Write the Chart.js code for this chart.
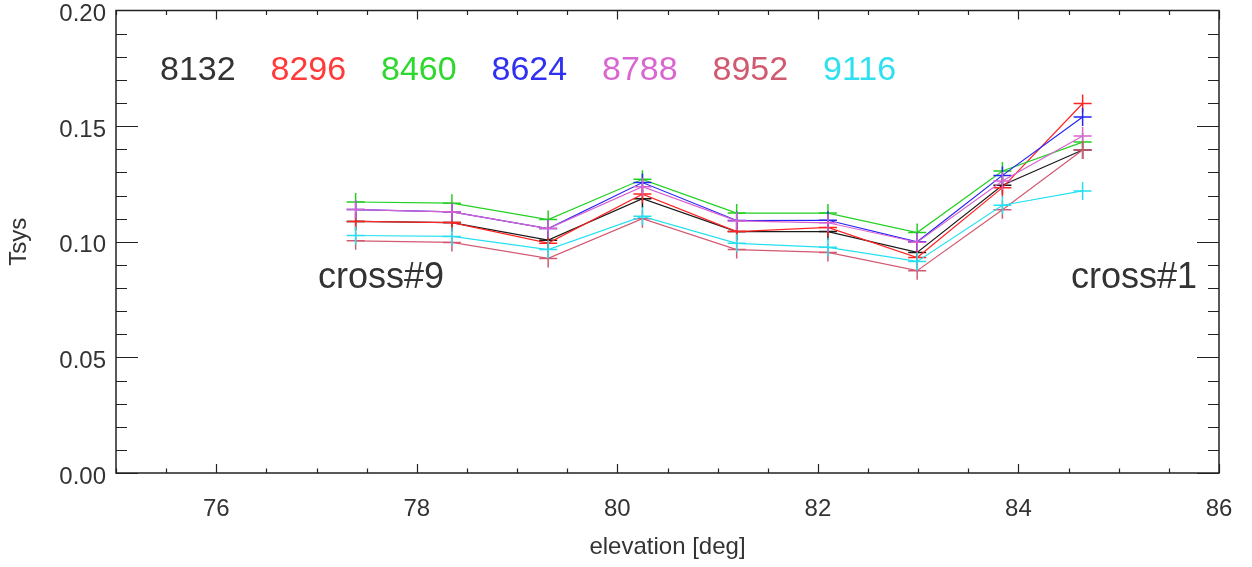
<!DOCTYPE html>
<html>
<head>
<meta charset="utf-8">
<script src="https://cdn.jsdelivr.net/npm/chart.js@4.4.1/dist/chart.umd.min.js"></script>
<style>
  html, body { margin: 0; padding: 0; background: #fff; }
  canvas { display: block; }
</style>
</head>
<body>
<canvas id="tsysChart" width="1252" height="567"></canvas>
<script>
// elevation of each cross (deg)
const elevation = [77.39, 78.35, 79.31, 80.25, 81.19, 82.10, 82.99, 83.84, 84.64];

// channel names and colours
const channels = ['8132', '8296', '8460', '8624', '8788', '8952', '9116'];
const lineColors = ['#1a1a1a', '#ff2424', '#22d022', '#2424f4', '#d862d0', '#d25a72', '#26e0f2'];
const textColors = ['#333333', '#ff3a3a', '#2ed82e', '#3030f0', '#d868d0', '#d05a70', '#30e0f0'];

// Tsys per channel
const tsys8132 = [0.1088, 0.1083, 0.1007, 0.1186, 0.1044, 0.1044, 0.0954, 0.1244, 0.1397];
const tsys8296 = [0.1088, 0.1083, 0.0994, 0.1206, 0.1044, 0.1062, 0.0932, 0.1234, 0.1598];
const tsys8460 = [0.1172, 0.1167, 0.1096, 0.1270, 0.1124, 0.1124, 0.1040, 0.1306, 0.1431];
const tsys8624 = [0.1139, 0.1129, 0.1057, 0.1256, 0.1092, 0.1093, 0.1000, 0.1287, 0.1539];
const tsys8788 = [0.1139, 0.1129, 0.1057, 0.1238, 0.1090, 0.1082, 0.0998, 0.1263, 0.1457];
const tsys8952 = [0.1004, 0.0997, 0.0928, 0.1100, 0.0966, 0.0954, 0.0875, 0.1138, 0.1397];
const tsys9116 = [0.1027, 0.1023, 0.0966, 0.1110, 0.0993, 0.0976, 0.0915, 0.1158, 0.1220];
const allSeries = [tsys8132, tsys8296, tsys8460, tsys8624, tsys8788, tsys8952, tsys9116];

// axis ranges / ticks
const xRange = [75, 86];
const xMajor = 2, xMinor = 0.5;
const yRange = [0, 0.2];
const yMajor = 0.05, yMinor = 0.01;

const crossLabels = [{text: 'cross#9', at: 'left'}, {text: 'cross#1', at: 'right'}];

const FONT = '"Liberation Sans", Arial, Helvetica, sans-serif';
const INK = '#222';

// IDL-like frame: box with inward ticks on all four sides
const framePlugin = {
    id: 'frame',
    afterDraw(chart) {
        const {ctx, chartArea: a, scales: {x, y}} = chart;
        ctx.save();
        ctx.strokeStyle = INK;
        ctx.lineWidth = 1.5;
        ctx.strokeRect(a.left, a.top, a.right - a.left, a.bottom - a.top);
        ctx.lineWidth = 1.2;
        ctx.beginPath();
        for (let v = xRange[0]; v <= xRange[1] + 1e-9; v += xMinor) {
            const px = Math.round(x.getPixelForValue(v)) + 0.5;
            const major = Math.abs(v / xMajor - Math.round(v / xMajor)) < 1e-6;
            const len = major ? 9 : 4.5;
            ctx.moveTo(px, a.bottom); ctx.lineTo(px, a.bottom - len);
            ctx.moveTo(px, a.top); ctx.lineTo(px, a.top + len);
        }
        for (let v = yRange[0]; v <= yRange[1] + 1e-9; v += yMinor) {
            const py = Math.round(y.getPixelForValue(v)) + 0.5;
            const major = Math.abs(v / yMajor - Math.round(v / yMajor)) < 1e-6;
            const len = major ? 22 : 11;
            ctx.moveTo(a.left, py); ctx.lineTo(a.left + len, py);
            ctx.moveTo(a.right, py); ctx.lineTo(a.right - len, py);
        }
        ctx.stroke();

        // channel labels across the top
        ctx.font = '34px ' + FONT;
        ctx.textBaseline = 'alphabetic';
        ctx.textAlign = 'left';
        channels.forEach((name, i) => {
            ctx.fillStyle = textColors[i];
            ctx.fillText(name, 160 + i * 110.5, 80);
        });

        // cross annotations
        ctx.font = '36px ' + FONT;
        ctx.fillStyle = '#333';
        crossLabels.forEach(c => {
            if (c.at === 'left') {
                ctx.textAlign = 'left';
                ctx.fillText(c.text, 318, 288);
            } else {
                ctx.textAlign = 'right';
                ctx.fillText(c.text, 1197, 288);
            }
        });
        ctx.restore();
    }
};

const datasets = channels.map((name, i) => ({
    label: name,
    data: elevation.map((e, k) => ({x: e, y: allSeries[i][k]})),
    borderColor: lineColors[i],
    backgroundColor: lineColors[i],
    borderWidth: 1.2,
    pointStyle: 'cross',
    pointRadius: 9,
    pointBorderWidth: 1.5,
    pointBorderColor: lineColors[i],
    tension: 0,
    fill: false,
    order: channels.length - i
}));

new Chart(document.getElementById('tsysChart'), {
    type: 'line',
    data: {datasets},
    options: {
        responsive: false,
        animation: false,
        devicePixelRatio: 1,
        layout: {padding: {top: 9, right: 33, left: 0, bottom: 0}},
        plugins: {
            legend: {display: false},
            tooltip: {enabled: false}
        },
        scales: {
            x: {
                type: 'linear',
                min: xRange[0],
                max: xRange[1],
                afterFit: s => {
                    s.height = 94;
                    s.paddingLeft = 0; s.paddingRight = 0;
                },
                grid: {display: false, drawTicks: false},
                border: {display: false},
                ticks: {
                    stepSize: xMajor,
                    includeBounds: false,
                    maxRotation: 0,
                    padding: 22,
                    color: '#333',
                    font: {family: FONT, size: 24}
                },
                title: {
                    display: true,
                    text: 'elevation [deg]',
                    color: '#333',
                    padding: {top: 0, bottom: 5},
                    font: {family: FONT, size: 24}
                }
            },
            y: {
                type: 'linear',
                min: yRange[0],
                max: yRange[1],
                afterFit: s => {
                    s.width = 116;
                    s.paddingTop = 0; s.paddingBottom = 0;
                },
                grid: {display: false, drawTicks: false},
                border: {display: false},
                ticks: {
                    stepSize: yMajor,
                    includeBounds: false,
                    padding: 10,
                    labelOffset: 4,
                    color: '#333',
                    font: {family: FONT, size: 24},
                    callback: v => v.toFixed(2)
                },
                title: {
                    display: true,
                    text: 'Tsys',
                    color: '#333',
                    padding: {top: 5, bottom: 0},
                    font: {family: FONT, size: 24}
                }
            }
        }
    },
    plugins: [framePlugin]
});
</script>
</body>
</html>
